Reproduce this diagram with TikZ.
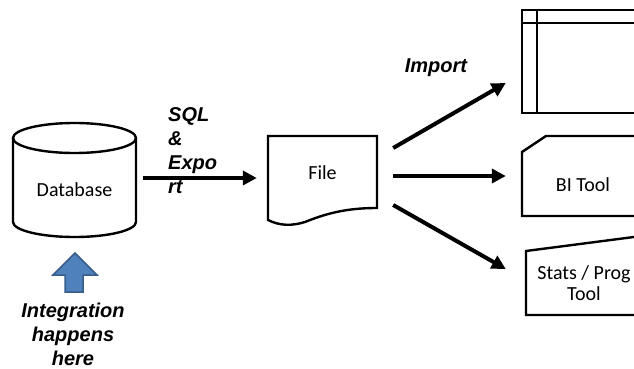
\documentclass[tikz,border=0pt]{standalone}
\usepackage{fontspec}
\setmainfont{Carlito}
\newfontfamily\labfont{Liberation Sans}
\usetikzlibrary{arrows.meta}
\definecolor{upblue}{HTML}{4F81BD}
\definecolor{upedge}{HTML}{385D8A}
\begin{document}
\begin{tikzpicture}[x=1pt, y=-1pt,
  outline/.style={draw, line width=2.4pt, line join=miter},
  flow/.style={line width=4pt, -{Triangle[length=14pt,width=14pt]}},
  lbl/.style={font=\fontsize{20}{20.5}\selectfont, inner sep=0, align=center},
  note/.style={font=\labfont\bfseries\itshape\fontsize{20}{24}\selectfont, inner sep=0},
  area/.style={inner sep=0, minimum width=#1}
]
\useasboundingbox (0,0) rectangle (634,369);
\clip (0,0) rectangle (634,369);

% Database cylinder
\draw[outline] (74.5,138) ellipse [x radius=61.5pt, y radius=15pt];
\draw[outline] (13,138) -- (13,222)
  arc[start angle=180, end angle=360, x radius=61.5pt, y radius=15pt] -- (136,138);
\node[area=123pt, minimum height=80pt] (cyl) at (74.5,178) {};
\node[lbl] (db) at (74.5,190) {Database};

% Upward block arrow
\node[area=44pt, minimum height=39pt] (up) at (75,272.5) {};
\draw[fill=upblue, draw=upedge, line width=1.5pt, line join=miter]
  (65,292) -- (65,275) -- (53,275) -- (75,253) -- (97,275) -- (83,275) -- (83,292) -- cycle;
\node[note, align=center] (integ) at (73,334) {Integration\\happens\\here};

% Export arrow and its label
\node[area=109pt, minimum height=72pt] (file) at (322.5,172) {};
\draw[flow] ([xshift=7pt]cyl.east) -- ([xshift=-11pt]cyl.east -| file.west);
\node[note, align=left, anchor=west] (sql) at (168,151) {SQL\\\&\\Expo\\rt};

% File document shape
\draw[outline] (268,220) -- (268,136) -- (377,136) -- (377,208)
  .. controls (345,208) and (325,214) .. (305,222)
  .. controls (292,226) and (280,226) .. (268,220) -- cycle;
\node[lbl] (filetxt) at (322.5,173) {File};

% Table shape
\draw[outline] (522,10) rectangle (660,113);
\draw[outline] (537,10) -- (537,113);
\draw[outline] (522,23) -- (660,23);
\node[area=112pt, minimum height=103pt] (tbl) at (578,61.5) {};

% BI tool card shape
\draw[outline] (546,136) -- (660,136) -- (660,216) -- (522,216) -- (522,152) -- cycle;
\node[area=112pt, minimum height=80pt] (bi) at (578,176) {};
\node[lbl] (bitxt) at (583,185) {BI Tool};

% Stats tool manual-input shape
\draw[outline] (526,251) -- (660,233.6) -- (660,315) -- (526,315) -- cycle;
\node[area=108pt, minimum height=64pt] (stats) at (580,283) {};
\node[lbl] (statstxt) at (584,283) {Stats / Prog\\Tool};

% Import arrows
\draw[flow] ([shift={(16pt,24pt)}]file.east) -- ([shift={(-16pt,-21.5pt)}]tbl.west);
\draw[flow] ([xshift=16pt, yshift=-4pt]file.east) -- ([xshift=-16pt]bi.west);
\draw[flow] ([shift={(16pt,-33pt)}]file.east) -- ([shift={(-20pt,14pt)}]stats.west);
\node[note] (imp) at (436,68) {Import};
\end{tikzpicture}
\end{document}
